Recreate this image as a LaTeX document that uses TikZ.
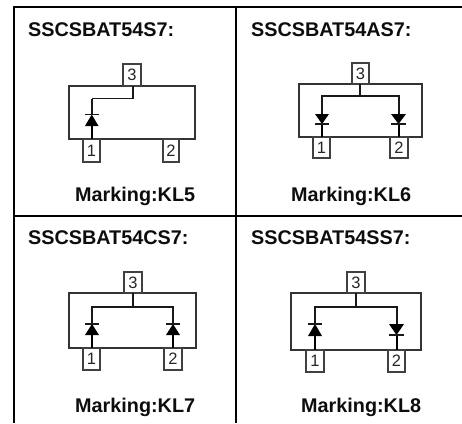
\documentclass[tikz,border=0pt]{standalone}
\usepackage{fontspec}
\setmainfont{Liberation Sans}
\newcommand{\diodeup}[4]{% x left, x right, y apex(bar), y base
  \fill[black] (#1,#4) -- (#2,#4) -- ({(#1+#2)/2},#3) -- cycle;
  \draw[wire] (#1,#3) -- (#2,#3);}
\begin{document}
\begin{tikzpicture}[x=1pt,y=-1pt,
  grid/.style={line width=1.8pt,black},
  body/.style={draw=black!80,line width=1.2pt,fill=none},
  wire/.style={line width=1.4pt,black!90},
  lead/.style={line width=1.8pt,black},
  pinbox/.style={draw=black!75,line width=1.2pt,font=\fontsize{16.5}{16.5}\selectfont,inner sep=0pt,anchor=center,text=black!85},
  title/.style={font=\bfseries\fontsize{19.8}{20}\selectfont,anchor=base west,inner sep=0pt,text=black!95}]
\useasboundingbox (0,0) rectangle (462,423);
% grid
\coordinate (gtl) at (14,7); \coordinate (gtr) at (462,7);
\coordinate (gbl) at (14,423); \coordinate (gmt) at (236,7); \coordinate (gmb) at (236,423);
\coordinate (gml) at (14,216); \coordinate (gmr) at (462,216);
\draw[grid] (gbl) -- (gtl) -- (gtr);
\draw[grid] (gmt) -- (gmb);
\draw[grid] (gml) -- (gmr);
% panel 1
\node[title] (t1) at (28,36) {SSCSBAT54S7:};
\node[title] (m1) at (75,201) {Marking:KL5};
\node[body,minimum width=126pt,minimum height=53pt,inner sep=0pt] (b1) at (132,112.5) {};
\node[pinbox,minimum width=18pt,minimum height=22pt] (p13) at (132,75) {3};
\node[pinbox,minimum width=17pt,minimum height=23pt] (p11) at (91.5,150.5) {1};
\node[pinbox,minimum width=16pt,minimum height=23pt] (p12) at (171,150.5) {2};
\coordinate (a1) at (92,139); \coordinate (a2) at (92,98.5); \coordinate (a3) at (133,98.5); \coordinate (a4) at (133,86);
\draw[wire] (a2) -- (a3) -- (a4);
\draw[wire] (a2) -- (92,114);
\draw[lead] (a1) -- (92,126);
\diodeup{85}{98.5}{114.5}{126}
% panel 2
\node[title] (t2) at (251,36) {SSCSBAT54AS7:};
\node[title] (m2) at (291,201) {Marking:KL6};
\node[body,minimum width=123pt,minimum height=53pt,inner sep=0pt] (b2) at (360.5,110.5) {};
\node[pinbox,minimum width=17pt,minimum height=21pt] (p23) at (360.5,73.5) {3};
\node[pinbox,minimum width=17pt,minimum height=21pt] (p21) at (321.5,147.5) {1};
\node[pinbox,minimum width=18pt,minimum height=21pt] (p22) at (399,147.5) {2};
\coordinate (c1) at (322,96); \coordinate (c2) at (399,96); \coordinate (c3) at (360,96); \coordinate (c4) at (360,84);
\draw[wire] (c3) -- (c4);
\draw[wire] (322,114) -- (c1) -- (c2) -- (399,114);
\draw[lead] (322,124) -- (322,137);
\draw[lead] (399,124) -- (399,137);
\diodeup{315}{329}{124}{114}
\diodeup{391}{406}{124}{114}
% panel 3
\node[title] (t3) at (28,244) {SSCSBAT54CS7:};
\node[title] (m3) at (75,412) {Marking:KL7};
\node[body,minimum width=127pt,minimum height=55pt,inner sep=0pt] (b3) at (132.5,320.5) {};
\node[pinbox,minimum width=18pt,minimum height=21pt] (p33) at (133,282.5) {3};
\node[pinbox,minimum width=17pt,minimum height=22pt] (p31) at (91.5,359) {1};
\node[pinbox,minimum width=18pt,minimum height=22pt] (p32) at (173,359) {2};
\coordinate (d1) at (92,307); \coordinate (d2) at (173,307); \coordinate (d3) at (133,307); \coordinate (d4) at (133,293);
\draw[wire] (d3) -- (d4);
\draw[wire] (92,324) -- (d1) -- (d2) -- (173,324);
\draw[lead] (92,335) -- (92,348);
\draw[lead] (173,335) -- (173,348);
\diodeup{85}{99}{324}{335}
\diodeup{166}{180}{324}{335}
% panel 4
\node[title] (t4) at (251,244) {SSCSBAT54SS7:};
\node[title] (m4) at (301,412) {Marking:KL8};
\node[body,minimum width=130pt,minimum height=57pt,inner sep=0pt] (b4) at (356,321.5) {};
\node[pinbox,minimum width=18pt,minimum height=21pt] (p43) at (356,282.5) {3};
\node[pinbox,minimum width=18pt,minimum height=22pt] (p41) at (315,361) {1};
\node[pinbox,minimum width=17pt,minimum height=22pt] (p42) at (396.5,361) {2};
\coordinate (e1) at (315,307); \coordinate (e2) at (397,307); \coordinate (e3) at (356,307); \coordinate (e4) at (356,293);
\draw[wire] (e3) -- (e4);
\draw[wire] (315,324) -- (e1) -- (e2) -- (397,324);
\draw[lead] (315,336) -- (315,350);
\draw[lead] (397,335) -- (397,350);
\diodeup{308}{322}{324}{336}
\diodeup{389}{404}{335}{324}
\end{tikzpicture}
\end{document}
